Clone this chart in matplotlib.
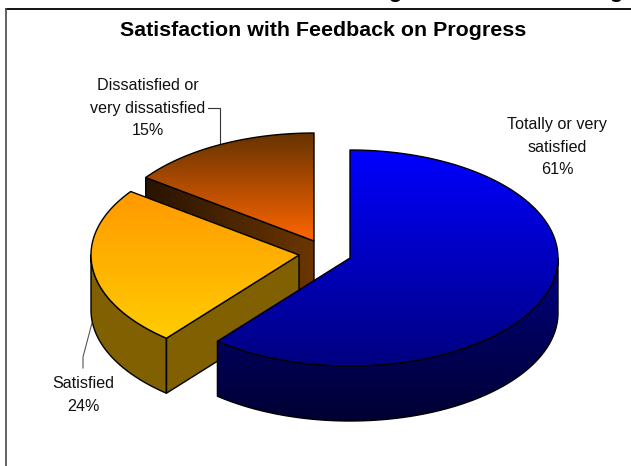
import numpy as np
import matplotlib
matplotlib.use("Agg")
import matplotlib.pyplot as plt
from matplotlib.patches import Polygon

plt.rcParams["font.family"] = ["Liberation Sans", "DejaVu Sans"]

title = "Satisfaction with Feedback on Progress"
labels = ["Totally or very\nsatisfied", "Satisfied", "Dissatisfied or\nvery dissatisfied"]
values = [61, 24, 15]

# pixel geometry of the 3d pie
A = 208
B = 108
DEPTH = 55
centres = [(350, 258), (299, 255), (314, 241)]

# slice angles, clockwise from 12 o'clock
edges = np.cumsum([0] + values) / sum(values) * 360

fig = plt.figure(figsize=(6.31, 4.66), dpi=100)
ax = fig.add_axes([0, 0, 1, 1])


def arc(c, t0, t1, dy=0):
    t = np.radians(np.linspace(t0, t1, 120))
    return np.column_stack([c[0] + A * np.sin(t), c[1] - B * np.cos(t) + dy])


def shade(pts, c0, c1, z, horizontal=False):
    # gradient image clipped to the polygon, with a black outline
    x0, y0 = pts.min(axis=0)
    x1, y1 = pts.max(axis=0)
    f = np.linspace(0, 1, 256)[:, None]
    grad = (np.array(c0) * (1 - f) + np.array(c1) * f) / 255
    grad = grad[None, :, :] if horizontal else grad[:, None, :]
    im = ax.imshow(grad, extent=(x0, x1, y1, y0), aspect="auto", zorder=z, interpolation="bilinear")
    clip = Polygon(pts, closed=True, transform=ax.transData)
    im.set_clip_path(clip)
    ax.add_patch(Polygon(pts, closed=True, fill=False, ec="black", lw=1.0, zorder=z + 0.1, joinstyle="round"))


def wall(p0, p1):
    return np.array([p0, p1, (p1[0], p1[1] + DEPTH), (p0[0], p0[1] + DEPTH)])


def rim(c, t0, t1):
    top = arc(c, t0, t1)
    return np.vstack([top, arc(c, t1, t0, DEPTH)])


# dissatisfied slice, back
c = centres[2]
t0, t1 = edges[2], edges[3]
shade(wall(arc(c, t0, t0)[0], c), (40, 20, 0), (108, 54, 0), 1, horizontal=True)
shade(np.vstack([[c], arc(c, t0, t1)]), (102, 51, 0), (255, 102, 0), 2)

# satisfied slice
c = centres[1]
t0, t1 = edges[1], edges[2]
shade(wall(c, arc(c, t0, t0)[0]), (128, 96, 0), (128, 96, 0), 3)
shade(rim(c, t0, 270), (128, 96, 0), (128, 96, 0), 3)
shade(np.vstack([[c], arc(c, t0, t1)]), (255, 153, 0), (255, 204, 0), 4)

# totally or very satisfied slice, front
c = centres[0]
t0, t1 = edges[0], edges[1]
shade(rim(c, 90, t1), (0, 0, 128), (0, 0, 51), 5)
shade(np.vstack([[c], arc(c, t0, t1)]), (0, 0, 255), (0, 0, 128), 6)

# leader lines
ax.plot([208, 220, 220], [108, 108, 143], color="#333333", lw=0.8, zorder=7)
ax.plot([92, 83, 83], [323, 357, 368], color="#555555", lw=0.8, zorder=7)

# frame, cut off at the right and bottom of the picture
ax.plot([6, 631], [9, 9], color="black", lw=1.3, zorder=8)
ax.plot([6, 6], [466, 9], color="#555555", lw=1.3, zorder=8)

ax.text(323, 30, title, ha="center", va="center", fontsize=15.4, fontweight="bold")

# bottom of the cut off heading above the frame
ax.text(395, -1.5, "g", ha="center", va="baseline", fontsize=15.4, fontweight="bold", clip_on=True)
ax.text(616, -1.5, "g", ha="center", va="baseline", fontsize=15.4, fontweight="bold", clip_on=True)

label_pos = [(557, 147), (83, 395), (148, 108)]
for lab, val, (x, y) in zip(labels, values, label_pos):
    ax.text(x, y, f"{lab}\n{val}%", ha="center", va="center", fontsize=11.6, linespacing=1.6, color="#111111", zorder=9)

ax.set_xlim(0, 631)
ax.set_ylim(466, 0)
ax.axis("off")

fig.savefig("out.png", dpi=100, facecolor="white")
